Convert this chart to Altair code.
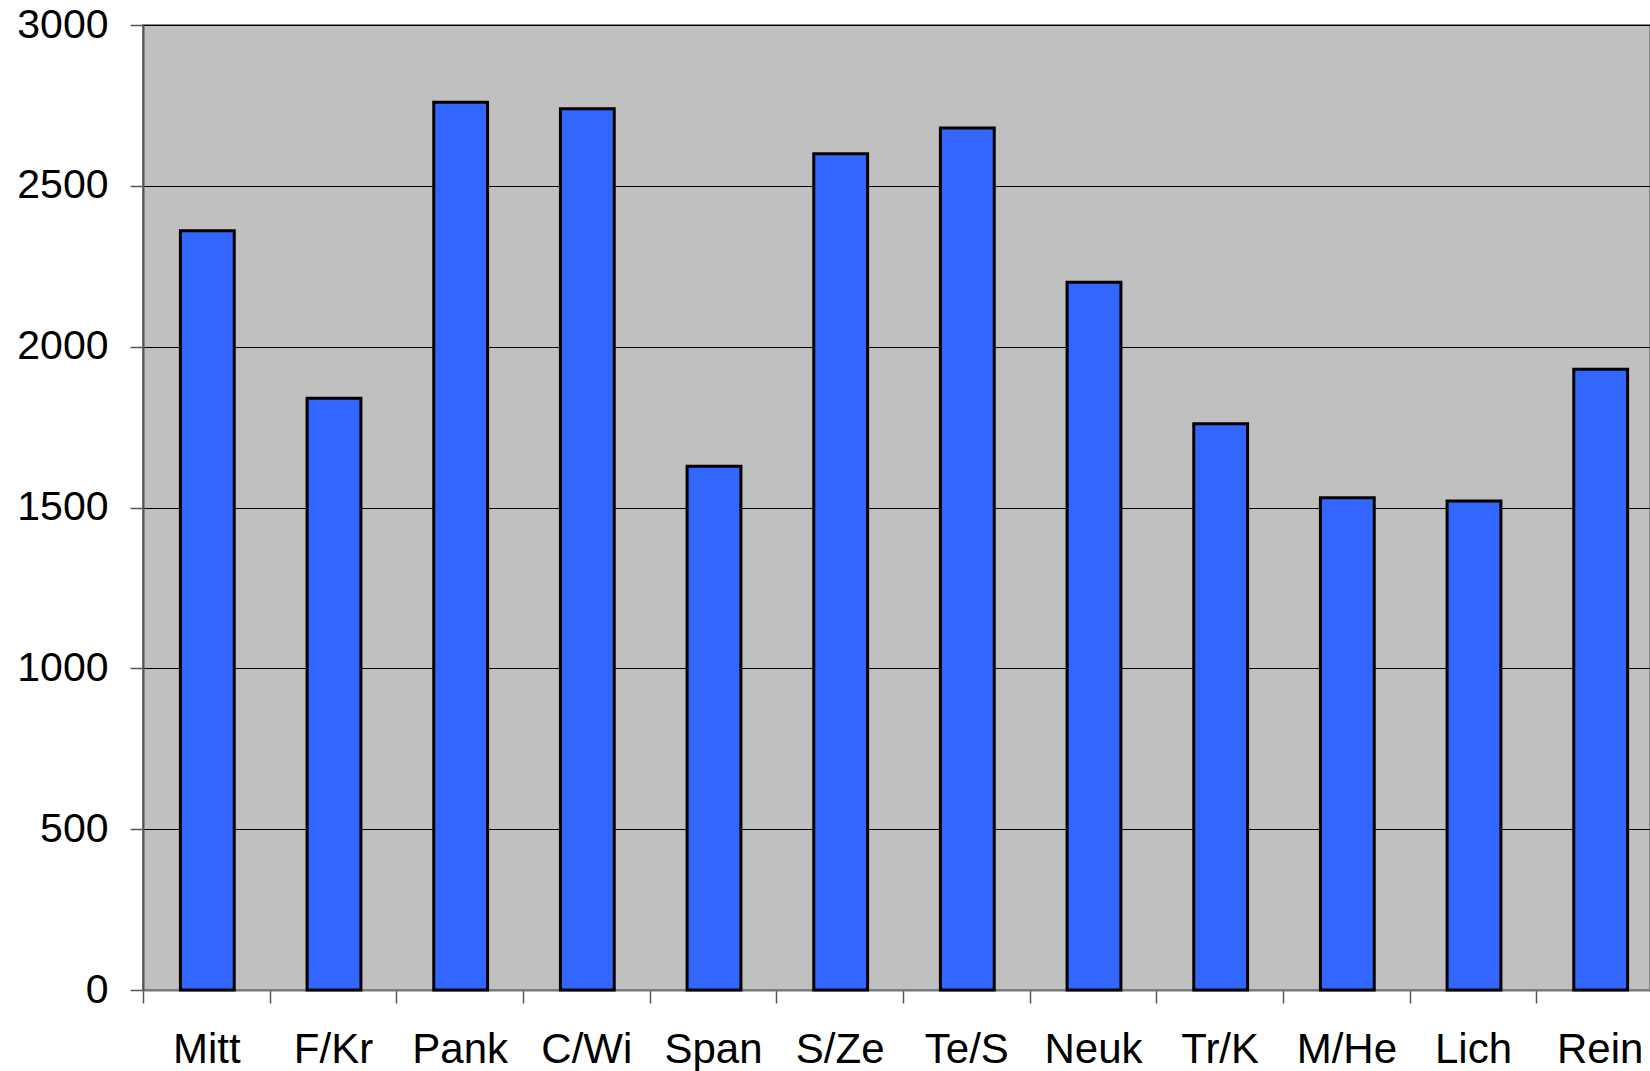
import altair as alt
import pandas as pd

# District labels and their values
districts = ["Mitt", "F/Kr", "Pank", "C/Wi", "Span", "S/Ze", "Te/S", "Neuk", "Tr/K", "M/He", "Lich", "Rein"]
values = [2360, 1840, 2760, 2740, 1628, 2600, 2680, 2200, 1760, 1530, 1520, 1930]
y_ticks = [0, 500, 1000, 1500, 2000, 2500, 3000]

df = pd.DataFrame({"district": districts, "value": values})

FONT = "Liberation Sans"

bars = alt.Chart(df).mark_bar(
    color="#3366FF",
    stroke="black",
    strokeWidth=3,
    width=alt.RelativeBandSize(0.425),
    xOffset=1,
).encode(
    x=alt.X(
        "district:N",
        sort=districts,
        scale=alt.Scale(range=[0, 1520], paddingInner=0, paddingOuter=0),
        axis=alt.Axis(
            title=None,
            labelAngle=0,
            labelFont=FONT,
            labelFontSize=42,
            labelColor="black",
            labelPadding=26,
            tickBand="extent",
            tickSize=13,
            tickColor="#555555",
            tickWidth=1.5,
            domainColor="#777777",
            domainWidth=2,
            grid=False,
            labelOverlap=False,
        ),
    ),
    y=alt.Y(
        "value:Q",
        scale=alt.Scale(domain=[0, 3000], nice=False),
        axis=alt.Axis(
            title=None,
            values=y_ticks,
            format="d",
            labelFont=FONT,
            labelFontSize=41,
            labelColor="black",
            labelPadding=22,
            tickSize=13,
            tickColor="#555555",
            tickWidth=1.5,
            domainColor="#555555",
            domainWidth=2,
            grid=True,
            gridColor="black",
            gridWidth=1.2,
            gridOpacity=1,
        ),
    ),
)

chart = bars.properties(
    width=1507,
    height=965,
    autosize=alt.AutoSizeParams(type="none"),
    padding={"left": 143, "top": 25, "right": 0, "bottom": 81},
    background="white",
).configure_view(
    fill="#C0C0C0",
    stroke="#888888",
    strokeWidth=2,
)

chart.save("out.html", embed_options={"renderer": "svg", "actions": False})
